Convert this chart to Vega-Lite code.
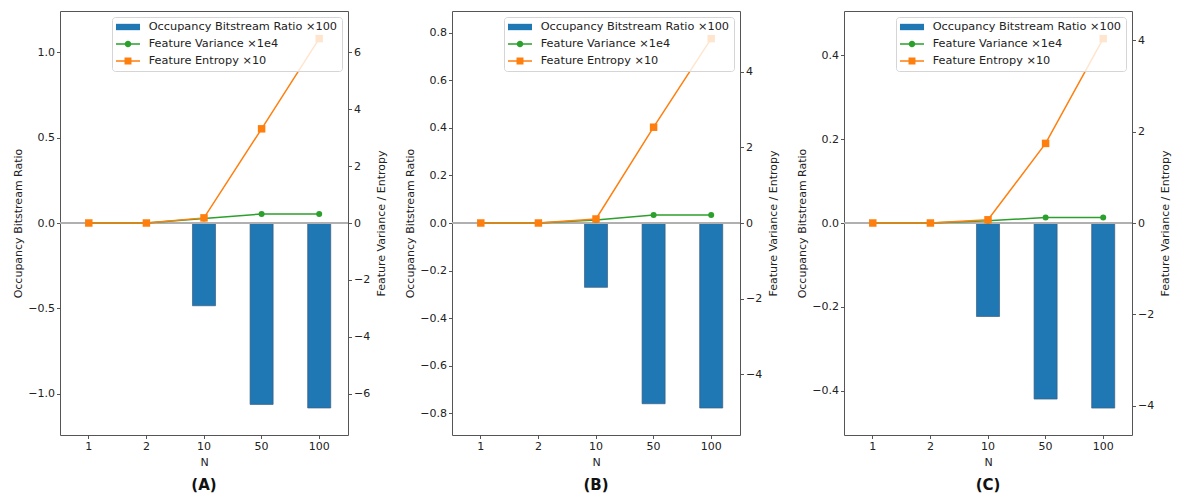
{
  "$schema": "https://vega.github.io/schema/vega-lite/v6.json",
  "padding": {"left": 12, "top": 10, "right": 0, "bottom": 0},
  "background": "white",
  "datasets": {
    "A": [
      {"N": "1", "ratio": 0, "variance": 0, "entropy": 0},
      {"N": "2", "ratio": 0, "variance": 0, "entropy": 0},
      {"N": "10", "ratio": -0.484, "variance": 0.16, "entropy": 0.18},
      {"N": "50", "ratio": -1.061, "variance": 0.316, "entropy": 3.31},
      {"N": "100", "ratio": -1.082, "variance": 0.316, "entropy": 6.48}
    ],
    "B": [
      {"N": "1", "ratio": 0, "variance": 0, "entropy": 0},
      {"N": "2", "ratio": 0, "variance": 0, "entropy": 0},
      {"N": "10", "ratio": -0.271, "variance": 0.08, "entropy": 0.106},
      {"N": "50", "ratio": -0.761, "variance": 0.21, "entropy": 2.53},
      {"N": "100", "ratio": -0.779, "variance": 0.21, "entropy": 4.87}
    ],
    "C": [
      {"N": "1", "ratio": 0, "variance": 0, "entropy": 0},
      {"N": "2", "ratio": 0, "variance": 0, "entropy": 0},
      {"N": "10", "ratio": -0.223, "variance": 0.05, "entropy": 0.07},
      {"N": "50", "ratio": -0.42, "variance": 0.12, "entropy": 1.74},
      {"N": "100", "ratio": -0.4415, "variance": 0.12, "entropy": 4.03}
    ]
  },
  "hconcat": [
    {
      "width": 288, "height": 424,
      "data": {"name": "A"},
      "title": {"text": "(A)"},
      "layer": [
        {"layer": [
          {"mark": {"type": "bar", "color": "#1f77b4", "stroke": "#3d5f7f", "strokeWidth": 0.7},
           "encoding": {
             "x": {"field": "N", "type": "ordinal", "sort": null, "title": "N", "scale": {"paddingInner": 0.6, "paddingOuter": 0.3}, "axis": {"labelAngle": 0}},
             "y": {"field": "ratio", "type": "quantitative", "title": "Occupancy Bitstream Ratio", "scale": {"domain": [-1.24, 1.24], "nice": false, "zero": false}, "axis": {"values": [-1, -0.5, 0, 0.5, 1], "format": ".1f", "titlePadding": 4}}}},
          {"mark": {"type": "rule", "color": "#b0b0b0", "strokeWidth": 1.3}, "encoding": {"y": {"datum": 0}}}
        ]},
        {"layer": [
          {"mark": {"type": "line", "color": "#2ca02c", "strokeWidth": 1.5},
           "encoding": {
             "x": {"field": "N", "type": "ordinal", "sort": null},
             "y": {"field": "variance", "type": "quantitative", "title": "Feature Variance / Entropy", "scale": {"domain": [-7.45, 7.45], "nice": false, "zero": false}, "axis": {"orient": "right", "values": [-6, -4, -2, 0, 2, 4, 6], "format": "d", "titleAngle": 270, "titleBaseline": "top", "titlePadding": 6}}}},
          {"mark": {"type": "point", "filled": true, "shape": "circle", "size": 36, "color": "#2ca02c", "opacity": 1},
           "encoding": {"x": {"field": "N", "type": "ordinal", "sort": null}, "y": {"field": "variance", "type": "quantitative"}}},
          {"mark": {"type": "line", "color": "#ff7f0e", "strokeWidth": 1.5},
           "encoding": {"x": {"field": "N", "type": "ordinal", "sort": null}, "y": {"field": "entropy", "type": "quantitative"}}},
          {"mark": {"type": "point", "filled": true, "shape": "square", "size": 56, "color": "#ff7f0e", "opacity": 1},
           "encoding": {"x": {"field": "N", "type": "ordinal", "sort": null}, "y": {"field": "entropy", "type": "quantitative"}}}
        ]},
        {"transform": [{"filter": "false"}],
         "mark": {"type": "point", "filled": true, "opacity": 1},
         "encoding": {
           "color": {"field": "series", "type": "nominal", "scale": {"domain": ["Occupancy Bitstream Ratio ×100", "Feature Variance ×1e4", "Feature Entropy ×10"], "range": ["#1f77b4", "#2ca02c", "#ff7f0e"]}, "legend": {"title": null}},
           "shape": {"field": "series", "type": "nominal", "scale": {"domain": ["Occupancy Bitstream Ratio ×100", "Feature Variance ×1e4", "Feature Entropy ×10"], "range": ["M-1,-0.53 L3,-0.53 L3,0.53 L-1,0.53 Z", "M-1,-0.14 L3,-0.14 L3,0.14 L-1,0.14 Z M1.55,0 A0.55,0.55 0 1,1 0.45,0 A0.55,0.55 0 1,1 1.55,0 Z", "M-1,-0.14 L3,-0.14 L3,0.14 L-1,0.14 Z M0.42,-0.58 L1.58,-0.58 L1.58,0.58 L0.42,0.58 Z"]}, "legend": {"title": null}}}}
      ],
      "resolve": {"scale": {"y": "independent"}}
    },
    {
      "width": 288, "height": 424,
      "data": {"name": "B"},
      "title": {"text": "(B)"},
      "layer": [
        {"layer": [
          {"mark": {"type": "bar", "color": "#1f77b4", "stroke": "#3d5f7f", "strokeWidth": 0.7},
           "encoding": {
             "x": {"field": "N", "type": "ordinal", "sort": null, "title": "N", "scale": {"paddingInner": 0.6, "paddingOuter": 0.3}, "axis": {"labelAngle": 0}},
             "y": {"field": "ratio", "type": "quantitative", "title": "Occupancy Bitstream Ratio", "scale": {"domain": [-0.8926, 0.8926], "nice": false, "zero": false}, "axis": {"values": [-0.8, -0.6, -0.4, -0.2, 0, 0.2, 0.4, 0.6, 0.8], "format": ".1f", "titlePadding": 4}}}},
          {"mark": {"type": "rule", "color": "#b0b0b0", "strokeWidth": 1.3}, "encoding": {"y": {"datum": 0}}}
        ]},
        {"layer": [
          {"mark": {"type": "line", "color": "#2ca02c", "strokeWidth": 1.5},
           "encoding": {
             "x": {"field": "N", "type": "ordinal", "sort": null},
             "y": {"field": "variance", "type": "quantitative", "title": "Feature Variance / Entropy", "scale": {"domain": [-5.6, 5.6], "nice": false, "zero": false}, "axis": {"orient": "right", "values": [-4, -2, 0, 2, 4], "format": "d", "titleAngle": 270, "titleBaseline": "top", "titlePadding": 6}}}},
          {"mark": {"type": "point", "filled": true, "shape": "circle", "size": 36, "color": "#2ca02c", "opacity": 1},
           "encoding": {"x": {"field": "N", "type": "ordinal", "sort": null}, "y": {"field": "variance", "type": "quantitative"}}},
          {"mark": {"type": "line", "color": "#ff7f0e", "strokeWidth": 1.5},
           "encoding": {"x": {"field": "N", "type": "ordinal", "sort": null}, "y": {"field": "entropy", "type": "quantitative"}}},
          {"mark": {"type": "point", "filled": true, "shape": "square", "size": 56, "color": "#ff7f0e", "opacity": 1},
           "encoding": {"x": {"field": "N", "type": "ordinal", "sort": null}, "y": {"field": "entropy", "type": "quantitative"}}}
        ]},
        {"transform": [{"filter": "false"}],
         "mark": {"type": "point", "filled": true, "opacity": 1},
         "encoding": {
           "color": {"field": "series", "type": "nominal", "scale": {"domain": ["Occupancy Bitstream Ratio ×100", "Feature Variance ×1e4", "Feature Entropy ×10"], "range": ["#1f77b4", "#2ca02c", "#ff7f0e"]}, "legend": {"title": null}},
           "shape": {"field": "series", "type": "nominal", "scale": {"domain": ["Occupancy Bitstream Ratio ×100", "Feature Variance ×1e4", "Feature Entropy ×10"], "range": ["M-1,-0.53 L3,-0.53 L3,0.53 L-1,0.53 Z", "M-1,-0.14 L3,-0.14 L3,0.14 L-1,0.14 Z M1.55,0 A0.55,0.55 0 1,1 0.45,0 A0.55,0.55 0 1,1 1.55,0 Z", "M-1,-0.14 L3,-0.14 L3,0.14 L-1,0.14 Z M0.42,-0.58 L1.58,-0.58 L1.58,0.58 L0.42,0.58 Z"]}, "legend": {"title": null}}}}
      ],
      "resolve": {"scale": {"y": "independent"}}
    },
    {
      "width": 288, "height": 424,
      "data": {"name": "C"},
      "title": {"text": "(C)"},
      "layer": [
        {"layer": [
          {"mark": {"type": "bar", "color": "#1f77b4", "stroke": "#3d5f7f", "strokeWidth": 0.7},
           "encoding": {
             "x": {"field": "N", "type": "ordinal", "sort": null, "title": "N", "scale": {"paddingInner": 0.6, "paddingOuter": 0.3}, "axis": {"labelAngle": 0}},
             "y": {"field": "ratio", "type": "quantitative", "title": "Occupancy Bitstream Ratio", "scale": {"domain": [-0.5057, 0.5057], "nice": false, "zero": false}, "axis": {"values": [-0.4, -0.2, 0, 0.2, 0.4], "format": ".1f", "titlePadding": 4}}}},
          {"mark": {"type": "rule", "color": "#b0b0b0", "strokeWidth": 1.3}, "encoding": {"y": {"datum": 0}}}
        ]},
        {"layer": [
          {"mark": {"type": "line", "color": "#2ca02c", "strokeWidth": 1.5},
           "encoding": {
             "x": {"field": "N", "type": "ordinal", "sort": null},
             "y": {"field": "variance", "type": "quantitative", "title": "Feature Variance / Entropy", "scale": {"domain": [-4.634, 4.634], "nice": false, "zero": false}, "axis": {"orient": "right", "values": [-4, -2, 0, 2, 4], "format": "d", "titleAngle": 270, "titleBaseline": "top", "titlePadding": 6}}}},
          {"mark": {"type": "point", "filled": true, "shape": "circle", "size": 36, "color": "#2ca02c", "opacity": 1},
           "encoding": {"x": {"field": "N", "type": "ordinal", "sort": null}, "y": {"field": "variance", "type": "quantitative"}}},
          {"mark": {"type": "line", "color": "#ff7f0e", "strokeWidth": 1.5},
           "encoding": {"x": {"field": "N", "type": "ordinal", "sort": null}, "y": {"field": "entropy", "type": "quantitative"}}},
          {"mark": {"type": "point", "filled": true, "shape": "square", "size": 56, "color": "#ff7f0e", "opacity": 1},
           "encoding": {"x": {"field": "N", "type": "ordinal", "sort": null}, "y": {"field": "entropy", "type": "quantitative"}}}
        ]},
        {"transform": [{"filter": "false"}],
         "mark": {"type": "point", "filled": true, "opacity": 1},
         "encoding": {
           "color": {"field": "series", "type": "nominal", "scale": {"domain": ["Occupancy Bitstream Ratio ×100", "Feature Variance ×1e4", "Feature Entropy ×10"], "range": ["#1f77b4", "#2ca02c", "#ff7f0e"]}, "legend": {"title": null}},
           "shape": {"field": "series", "type": "nominal", "scale": {"domain": ["Occupancy Bitstream Ratio ×100", "Feature Variance ×1e4", "Feature Entropy ×10"], "range": ["M-1,-0.53 L3,-0.53 L3,0.53 L-1,0.53 Z", "M-1,-0.14 L3,-0.14 L3,0.14 L-1,0.14 Z M1.55,0 A0.55,0.55 0 1,1 0.45,0 A0.55,0.55 0 1,1 1.55,0 Z", "M-1,-0.14 L3,-0.14 L3,0.14 L-1,0.14 Z M0.42,-0.58 L1.58,-0.58 L1.58,0.58 L0.42,0.58 Z"]}, "legend": {"title": null}}}}
      ],
      "resolve": {"scale": {"y": "independent"}}
    }
  ],
  "resolve": {"scale": {"color": "independent", "shape": "independent"}},
  "config": {
    "font": "DejaVu Sans",
    "view": {"stroke": "#555555", "strokeWidth": 1},
    "concat": {"spacing": 16},
    "axis": {"grid": false, "domain": false, "tickColor": "#555555", "tickSize": 3.5, "tickWidth": 1, "labelFontSize": 11, "labelColor": "#222222", "labelFont": "DejaVu Sans", "titleFont": "DejaVu Sans", "titleFontSize": 11, "titleFontWeight": "normal", "titleColor": "#222222", "labelPadding": 2},
    "axisX": {"titlePadding": 5},
    "title": {"orient": "bottom", "fontSize": 15, "fontWeight": "bold", "color": "#111111", "offset": 10, "font": "DejaVu Sans"},
    "legend": {"orient": "top-right", "offset": 6, "padding": 4, "labelFontSize": 11.3, "labelFont": "DejaVu Sans", "labelColor": "#222222", "labelLimit": 0, "symbolSize": 144, "rowPadding": 5, "labelOffset": 20.7, "symbolStrokeWidth": 0, "strokeColor": "#d5d5d5", "fillColor": "rgba(255,255,255,0.8)", "cornerRadius": 3}
  }
}
